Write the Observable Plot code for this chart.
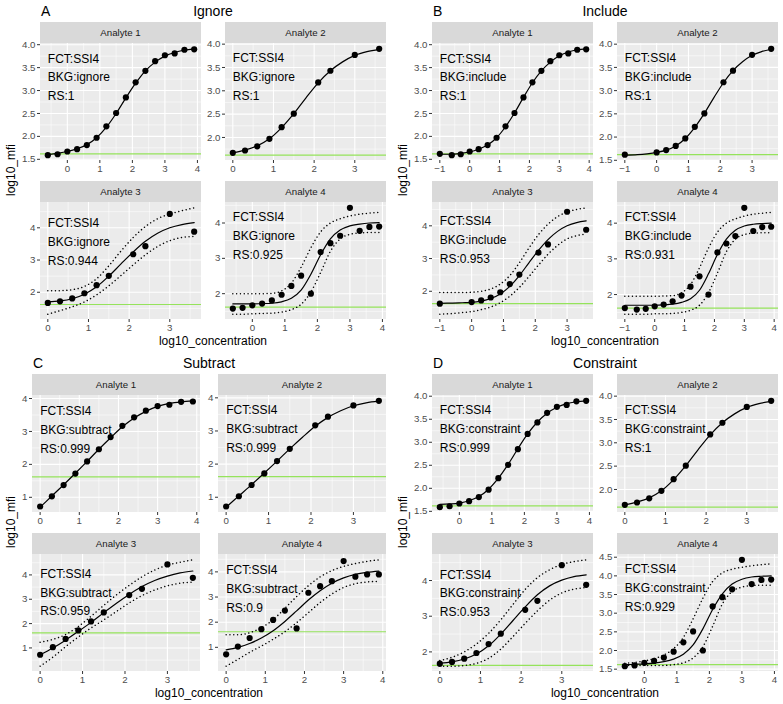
<!DOCTYPE html>
<html><head><meta charset="utf-8">
<script src="https://cdn.jsdelivr.net/npm/d3@7"></script>
<script src="https://cdn.jsdelivr.net/npm/@observablehq/plot@0.6"></script>
<style>
body{margin:0;background:#fff}
#fig{position:relative;width:783px;height:704px;overflow:hidden;font-family:'Liberation Sans',Arial,Helvetica,sans-serif;background:#fff}
.abs{position:absolute;white-space:nowrap}
svg{overflow:visible}
</style></head>
<body><div id="fig"></div>
<script>
// ---------------- data ----------------
const panelLetters = ["A","B","C","D"];
const panelTitles = ["Ignore","Include","Subtract","Constraint"];
const bkgLabels = ["ignore","include","subtract","constraint"];
const analyteNames = ["Analyte 1","Analyte 2","Analyte 3","Analyte 4"];
const rsA = ["1","1","0.944","0.925"];
const rsB = ["1","1","0.953","0.931"];
const rsC = ["0.999","0.999","0.959","0.9"];
const rsD = ["0.999","1","0.953","0.929"];
const bkgLevel = 1.62;

// x positions (log10 concentration)
const x16 = [-0.6,-0.3,0,0.3,0.6,0.9,1.2,1.5,1.8,2.1,2.4,2.7,3.0,3.3,3.6,3.9];
const x10 = [0,0.3,0.6,0.9,1.2,1.5,2.1,2.4,3.0,3.6];
const x13 = [0,0.3,0.6,0.9,1.2,1.5,1.8,2.1,2.4,2.7,3.0,3.3,3.6];
const x14 = [0,0.3,0.6,0.9,1.2,1.5,1.8,2.1,2.4,2.7,3.0,3.3,3.6,3.9];
const xB17 = [-1,-0.6,-0.3,0,0.3,0.6,0.9,1.2,1.5,1.8,2.1,2.4,2.7,3.0,3.3,3.6,3.9];
const xB11 = [-1,0,0.3,0.6,0.9,1.2,1.5,2.1,2.4,3.0,3.6];
const xB16 = [-1,-0.6,-0.3,0,0.3,0.6,0.9,1.2,1.5,1.8,2.1,2.4,2.7,3.0,3.3,3.6];

// observed points (log10 mfi)
const ptsA1 = [1.59,1.61,1.67,1.72,1.81,1.97,2.22,2.51,2.85,3.18,3.43,3.64,3.77,3.81,3.89,3.90];
const ptsA2 = [1.67,1.72,1.81,1.97,2.22,2.51,3.18,3.43,3.77,3.90];
const ptsA3 = [1.67,1.72,1.81,1.97,2.22,2.51,3.18,3.43,4.43,3.88];
const ptsA4 = [1.58,1.60,1.67,1.72,1.81,1.97,2.22,2.51,2.00,3.18,3.43,3.64,4.43,3.78,3.89,3.90];
const ptsB1 = [1.62,1.59,1.61,1.67,1.72,1.81,1.97,2.22,2.51,2.85,3.18,3.43,3.64,3.77,3.81,3.89,3.90];
const ptsB2 = [1.62,1.67,1.72,1.81,1.97,2.22,2.51,3.18,3.43,3.77,3.90];
const ptsB3 = [1.62,1.67,1.72,1.81,1.97,2.22,2.51,3.18,3.43,4.43,3.88];
const ptsB4 = [1.62,1.58,1.60,1.67,1.72,1.81,1.97,2.22,2.51,2.00,3.18,3.43,3.64,4.43,3.78,3.89,3.90];
const ptsC1 = [0.72,1.03,1.37,1.72,2.09,2.46,2.83,3.17,3.43,3.63,3.77,3.81,3.90,3.91];
const ptsC2 = [0.72,1.03,1.37,1.72,2.09,2.46,3.17,3.43,3.77,3.91];
const ptsC3 = [0.72,1.03,1.37,1.72,2.09,2.46,3.17,3.43,4.43,3.88];
const ptsC4 = [0.72,1.03,1.37,1.72,2.09,2.46,1.75,3.17,3.43,3.63,4.43,3.81,3.90,3.90];
const ptsD1 = [1.59,1.61,1.67,1.72,1.81,1.97,2.22,2.51,2.85,3.18,3.43,3.64,3.77,3.81,3.89,3.90];
const ptsD2 = [1.67,1.72,1.81,1.97,2.22,2.51,3.18,3.43,3.77,3.90];
const ptsD3 = [1.67,1.72,1.81,1.97,2.22,2.51,3.18,3.43,4.43,3.88];
const ptsD4 = [1.58,1.60,1.67,1.72,1.81,1.97,2.22,2.51,2.00,3.18,3.43,3.64,4.43,3.78,3.89,3.90];

// fitted curves and confidence bounds
const fitA1 = [1.60,1.63,1.67,1.73,1.82,1.97,2.20,2.50,2.84,3.16,3.43,3.62,3.75,3.83,3.88,3.91];
const fitA2 = [1.67,1.73,1.82,1.97,2.21,2.51,2.85,3.17,3.43,3.62,3.76,3.84,3.89];
const fitA3 = [1.70,1.73,1.80,1.94,2.17,2.50,2.88,3.25,3.58,3.83,4.00,4.10,4.16];
const upA3  = [2.05,2.05,2.08,2.18,2.42,2.82,3.28,3.70,4.04,4.28,4.43,4.53,4.62];
const loA3  = [1.32,1.43,1.55,1.70,1.92,2.20,2.52,2.85,3.16,3.42,3.60,3.70,3.73];
const fitA4 = [1.71,1.71,1.71,1.72,1.73,1.77,1.87,2.10,2.55,3.10,3.55,3.80,3.92,3.97,4.00,4.01];
const upA4  = [2.00,2.00,2.00,2.00,2.01,2.08,2.30,2.75,3.30,3.75,4.00,4.12,4.20,4.25,4.28,4.30];
const loA4  = [1.42,1.42,1.43,1.44,1.45,1.48,1.55,1.70,2.05,2.60,3.20,3.55,3.68,3.72,3.73,3.73];

const fitB1 = [1.61,1.61,1.63,1.66,1.72,1.81,1.97,2.21,2.51,2.85,3.17,3.43,3.62,3.76,3.84,3.89,3.91];
const fitB2 = [1.61,1.62,1.64,1.67,1.72,1.81,1.97,2.21,2.51,2.85,3.17,3.43,3.62,3.76,3.84,3.89];
const fitB3 = [1.63,1.64,1.65,1.66,1.70,1.78,1.92,2.15,2.48,2.87,3.25,3.58,3.83,4.00,4.10,4.15];
const upB3  = [1.96,1.96,1.96,1.97,2.00,2.07,2.22,2.48,2.87,3.32,3.73,4.05,4.28,4.42,4.50,4.55];
const loB3  = [1.30,1.32,1.35,1.38,1.44,1.52,1.65,1.85,2.12,2.45,2.80,3.13,3.40,3.60,3.70,3.75];
const fitB4 = [1.70,1.70,1.70,1.70,1.71,1.73,1.78,1.88,2.12,2.58,3.12,3.55,3.80,3.92,3.97,3.99,4.00];
const upB4  = [1.95,1.95,1.95,1.95,1.96,1.97,2.05,2.28,2.75,3.30,3.75,4.00,4.12,4.20,4.25,4.28,4.30];
const loB4  = [1.45,1.45,1.45,1.46,1.46,1.47,1.50,1.56,1.70,2.05,2.60,3.20,3.55,3.68,3.72,3.73,3.73];

const fitC1 = [0.70,1.04,1.38,1.73,2.09,2.46,2.81,3.14,3.41,3.61,3.76,3.85,3.90,3.93];
const fitC2 = [0.70,1.04,1.38,1.73,2.09,2.46,2.81,3.14,3.41,3.61,3.76,3.85,3.90];
const fitC3 = [0.72,1.00,1.32,1.68,2.05,2.45,2.84,3.20,3.52,3.77,3.95,4.08,4.16];
const upC3  = [1.23,1.35,1.55,1.88,2.30,2.75,3.18,3.57,3.92,4.20,4.40,4.52,4.62];
const loC3  = [0.25,0.62,1.05,1.45,1.82,2.15,2.50,2.85,3.15,3.38,3.55,3.66,3.70];
const fitC4 = [0.90,1.00,1.15,1.37,1.66,2.03,2.45,2.88,3.25,3.55,3.76,3.90,3.98,4.03];
const upC4  = [1.50,1.50,1.58,1.78,2.10,2.55,3.02,3.45,3.80,4.05,4.22,4.33,4.42,4.48];
const loC4  = [0.25,0.52,0.80,1.05,1.32,1.62,1.98,2.38,2.78,3.12,3.38,3.53,3.60,3.62];

const fitD1 = [1.65,1.66,1.68,1.73,1.82,1.98,2.22,2.52,2.86,3.18,3.44,3.63,3.76,3.84,3.88,3.90];
const fitD2 = [1.67,1.73,1.82,1.97,2.21,2.51,2.85,3.17,3.43,3.62,3.76,3.84,3.89];
const fitD3 = [1.68,1.72,1.80,1.94,2.17,2.50,2.88,3.26,3.60,3.85,4.01,4.11,4.16];
const upD3  = [1.76,1.85,2.00,2.22,2.52,2.90,3.33,3.75,4.08,4.30,4.45,4.53,4.58];
const loD3  = [1.60,1.60,1.62,1.68,1.82,2.08,2.43,2.80,3.15,3.45,3.65,3.76,3.80];
const fitD4 = [1.62,1.63,1.64,1.66,1.70,1.77,1.90,2.15,2.58,3.10,3.52,3.78,3.91,3.97,3.99,4.00];
const upD4  = [1.66,1.68,1.72,1.78,1.88,2.05,2.35,2.85,3.40,3.85,4.08,4.18,4.23,4.27,4.30,4.32];
const loD4  = [1.60,1.60,1.60,1.60,1.60,1.62,1.67,1.80,2.10,2.65,3.25,3.58,3.70,3.74,3.75,3.75];

// tick values
const xt04 = [0,1,2,3,4];
const xt03 = [0,1,2,3];
const xtm14 = [-1,0,1,2,3,4];
const xtm13 = [-1,0,1,2,3];
const yt1540 = [1.5,2.0,2.5,3.0,3.5,4.0];
const yt2040 = [2.0,2.5,3.0,3.5,4.0];
const yt1545 = [1.5,2.0,2.5,3.0,3.5,4.0,4.5];
const yt234 = [2,3,4];
const yt1234 = [1,2,3,4];

// ---------------- facet tables ----------------
const facetsA = [
  {px:x16, py:ptsA1, fx:x16, fy:fitA1, up:null, lo:null, xt:xt04, yt:yt1540},
  {px:x10, py:ptsA2, fx:x13, fy:fitA2, up:null, lo:null, xt:xt03, yt:yt2040},
  {px:x10, py:ptsA3, fx:x13, fy:fitA3, up:upA3, lo:loA3, xt:xt03, yt:yt234},
  {px:x16, py:ptsA4, fx:x16, fy:fitA4, up:upA4, lo:loA4, xt:xt04, yt:yt234}
];
const facetsB = [
  {px:xB17, py:ptsB1, fx:xB17, fy:fitB1, up:null, lo:null, xt:xtm14, yt:yt1540},
  {px:xB11, py:ptsB2, fx:xB16, fy:fitB2, up:null, lo:null, xt:xtm13, yt:yt1540},
  {px:xB11, py:ptsB3, fx:xB16, fy:fitB3, up:upB3, lo:loB3, xt:xtm13, yt:yt234},
  {px:xB17, py:ptsB4, fx:xB17, fy:fitB4, up:upB4, lo:loB4, xt:xtm14, yt:yt234}
];
const facetsC = [
  {px:x14, py:ptsC1, fx:x14, fy:fitC1, up:null, lo:null, xt:xt04, yt:yt1234},
  {px:x10, py:ptsC2, fx:x13, fy:fitC2, up:null, lo:null, xt:xt03, yt:yt1234},
  {px:x10, py:ptsC3, fx:x13, fy:fitC3, up:upC3, lo:loC3, xt:xt03, yt:yt1234},
  {px:x14, py:ptsC4, fx:x14, fy:fitC4, up:upC4, lo:loC4, xt:xt04, yt:yt1234}
];
const facetsD = [
  {px:x16, py:ptsD1, fx:x16, fy:fitD1, up:null, lo:null, xt:xt04, yt:yt1540},
  {px:x10, py:ptsD2, fx:x13, fy:fitD2, up:null, lo:null, xt:xt03, yt:yt2040},
  {px:x10, py:ptsD3, fx:x13, fy:fitD3, up:upD3, lo:loD3, xt:xt03, yt:yt234},
  {px:x16, py:ptsD4, fx:x16, fy:fitD4, up:upD4, lo:loD4, xt:xt04, yt:yt1545}
];
const allFacets = [facetsA, facetsB, facetsC, facetsD];
const allRS = [rsA, rsB, rsC, rsD];

// ---------------- layout ----------------
const FONT = "'Liberation Sans', Arial, Helvetica, sans-serif";
const ORIGINS = [[0,0],[392,0],[0,352],[392,352]];
const COLS_STD = [[40,201],[225,386]];
const COLS_NARROW = [[32,200],[218,386]];
const PANEL_COLS = [COLS_STD, COLS_STD, COLS_NARROW, COLS_STD];
const ROWS = [[43,160],[202,319]];
const STRIP_H = 21;
const ML = 40, MB = 24;
const GREEN = "#95E35B";

const fig = document.getElementById("fig");
function div(css, text) {
  const d = document.createElement("div");
  d.className = "abs";
  d.style.cssText = css;
  if (text != null) d.textContent = text;
  fig.appendChild(d);
  return d;
}

function expand(lo, hi) { const e = (hi - lo) * 0.05; return [lo - e, hi + e]; }
function minorBreaks(t, dom) {
  const s = t[1] - t[0];
  const ext = [t[0] - s, ...t, t[t.length - 1] + s];
  const m = [];
  for (let i = 0; i < ext.length - 1; i++) {
    const v = (ext[i] + ext[i + 1]) / 2;
    if (v >= dom[0] && v <= dom[1]) m.push(v);
  }
  return m;
}

function facetPlot(f, w, h, bkgText, rs) {
  const pts = f.px.map((x, i) => ({x, y: f.py[i]}));
  const fit = f.fx.map((x, i) => ({x, y: f.fy[i]}));
  const up = f.up ? f.fx.map((x, i) => ({x, y: f.up[i]})) : [];
  const lo = f.lo ? f.fx.map((x, i) => ({x, y: f.lo[i]})) : [];
  const ys = [...f.py, ...f.fy, ...(f.up || []), ...(f.lo || []), bkgLevel];
  const xs = [...f.px, ...f.fx];
  const xd = expand(d3.min(xs), d3.max(xs));
  const yd = expand(d3.min(ys), d3.max(ys));
  const yDec = f.yt.some(v => !Number.isInteger(v));
  const ann = [{x: d3.min(f.px), y: d3.max(f.py), label: `FCT:SSI4\nBKG:${bkgText}\nRS:${rs}`}];
  const dotted = {stroke: "black", strokeWidth: 1.5, strokeDasharray: "0.01,3.8", strokeLinecap: "round", curve: "monotone-x"};
  return Plot.plot({
    width: ML + w, height: h + MB,
    marginLeft: ML, marginRight: 0, marginTop: 0, marginBottom: MB,
    x: {domain: xd}, y: {domain: yd},
    style: {fontFamily: FONT, fontSize: "9.7px", overflow: "visible", background: "transparent", color: "#4D4D4D"},
    marks: [
      Plot.ruleY(minorBreaks(f.yt, yd), {stroke: "white", strokeWidth: 0.55}),
      Plot.ruleX(minorBreaks(f.xt, xd), {stroke: "white", strokeWidth: 0.55}),
      Plot.ruleY(f.yt, {stroke: "white", strokeWidth: 1.1}),
      Plot.ruleX(f.xt, {stroke: "white", strokeWidth: 1.1}),
      Plot.ruleY([bkgLevel], {stroke: GREEN, strokeWidth: 1.2}),
      Plot.line(up, {x: "x", y: "y", ...dotted}),
      Plot.line(lo, {x: "x", y: "y", ...dotted}),
      Plot.line(fit, {x: "x", y: "y", stroke: "black", strokeWidth: 1.2, curve: "monotone-x"}),
      Plot.dot(pts, {x: "x", y: "y", r: 3.1, fill: "black", stroke: null}),
      Plot.text(ann, {x: "x", y: "y", text: "label", textAnchor: "start", lineAnchor: "top",
        lineHeight: 1.57, fontSize: 12, fill: "black"}),
      Plot.axisX(f.xt, {tickSize: 3, tickPadding: 2, stroke: "#333333", fill: "#4D4D4D",
        tickFormat: d3.format("d"), label: null}),
      Plot.axisY(f.yt, {tickSize: 3, tickPadding: 2, stroke: "#333333", fill: "#4D4D4D",
        tickFormat: d3.format(yDec ? ".1f" : "d"), label: null})
    ]
  });
}

for (let p = 0; p < 4; p++) {
  const [ox, oy] = ORIGINS[p];
  const cols = PANEL_COLS[p];
  const areaL = ox + cols[0][0], areaR = ox + cols[1][1];
  div(`left:${areaL + 1}px;top:${oy + 3}px;font-size:14px;line-height:16px;color:#000`, panelLetters[p]);
  div(`left:${areaL}px;width:${areaR - areaL}px;top:${oy + 3}px;font-size:14px;line-height:16px;color:#000;text-align:center`, panelTitles[p]);
  div(`left:${ox + 11}px;top:${oy + 170}px;font-size:12px;line-height:14px;color:#000;transform:translate(-50%,-50%) rotate(-90deg)`, "log10_mfi");
  div(`left:${areaL}px;width:${areaR - areaL}px;top:${oy + 334}px;font-size:12px;line-height:14px;color:#000;text-align:center`, "log10_concentration");
  for (let i = 0; i < 4; i++) {
    const c = cols[i % 2], r = ROWS[Math.floor(i / 2)];
    const bx = ox + c[0], by = oy + r[0], bw = c[1] - c[0], bh = r[1] - r[0];
    div(`left:${bx}px;top:${by - STRIP_H}px;width:${bw}px;height:${STRIP_H}px;background:#D9D9D9;color:#1A1A1A;font-size:9.7px;line-height:${STRIP_H}px;text-align:center`, analyteNames[i]);
    div(`left:${bx}px;top:${by}px;width:${bw}px;height:${bh}px;background:#EBEBEB`);
    const svg = facetPlot(allFacets[p][i], bw, bh, bkgLabels[p], allRS[p][i]);
    const holder = div(`left:${bx - ML}px;top:${by}px;overflow:visible`);
    holder.appendChild(svg);
  }
}
</script>
</body></html>
